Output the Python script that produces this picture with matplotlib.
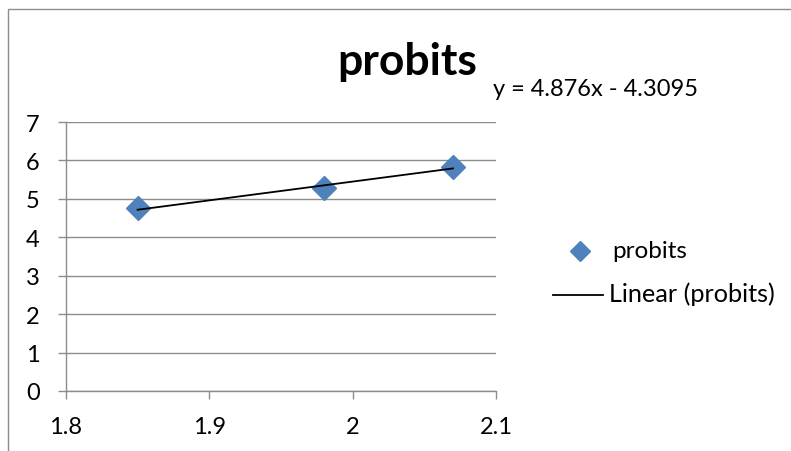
import matplotlib
matplotlib.use("Agg")
import matplotlib.pyplot as plt
import numpy as np
from matplotlib.lines import Line2D
from matplotlib.patches import Rectangle

x_vals = [1.85, 1.98, 2.07]
probits = [4.75, 5.27, 5.84]
x_ticks = [1.8, 1.9, 2.0, 2.1]
x_tick_labels = ["1.8", "1.9", "2", "2.1"]
y_ticks = [0, 1, 2, 3, 4, 5, 6, 7]
title = "probits"
equation = "y = 4.876x - 4.3095"
legend_labels = ["probits", "Linear (probits)"]

plt.rcParams['font.family'] = ['Lato', 'DejaVu Sans']

W, H = 791, 452
fig = plt.figure(figsize=(W / 100, H / 100), dpi=100)
fig.patch.set_facecolor("white")

# chart border
fig.add_artist(Rectangle((7.5 / W, -0.05), 1.2, (H - 10) / H + 0.05, transform=fig.transFigure,
                         fill=False, edgecolor="#8c8c8c", linewidth=1.0))

left, right, top, bottom = 66, 496, 123, 392
ax = fig.add_axes([left / W, 1 - bottom / H, (right - left) / W, (bottom - top) / H])
ax.set_xlim(1.8, 2.1)
ax.set_ylim(0, 7)
ax.set_xticks(x_ticks)
ax.set_xticklabels(x_tick_labels)
ax.set_yticks(y_ticks)

grid_c = "#8c8c8c"
for s in ["top", "right"]:
    ax.spines[s].set_visible(False)
for s in ["left", "bottom"]:
    ax.spines[s].set_color(grid_c)
    ax.spines[s].set_linewidth(1.0)
ax.yaxis.grid(True, color=grid_c, linewidth=1.0)
ax.set_axisbelow(True)
ax.tick_params(axis="both", colors=grid_c, labelcolor="black", labelsize=17,
               length=6, width=1.0, direction="out")
ax.tick_params(axis="x", pad=12)
ax.tick_params(axis="y", pad=13)

ax.plot(x_vals, probits, linestyle="none", marker="D", markersize=12,
        color="#4F81BD", markeredgecolor="#4F81BD", zorder=3, clip_on=False)

coef = np.polyfit(x_vals, probits, 1)
xs = np.array([min(x_vals), max(x_vals)])
ax.plot(xs, np.polyval(coef, xs), color="black", linewidth=1.3, zorder=4)

fig.text(407 / W, 1 - 75 / H, title, ha="center", va="baseline",
         fontsize=32, fontweight="bold")
fig.text(493 / W, 1 - 96 / H, equation, ha="left", va="baseline", fontsize=17)

# legend
fig.add_artist(Line2D([580 / W], [1 - 252 / H], marker="D", markersize=10,
                      color="#4F81BD", linestyle="none", transform=fig.transFigure))
fig.text(612 / W, 1 - 258 / H, legend_labels[0], ha="left", va="baseline", fontsize=17.5)
fig.add_artist(Line2D([553 / W, 603 / W], [1 - 296 / H, 1 - 296 / H], color="black",
                      linewidth=1.3, transform=fig.transFigure))
fig.text(609 / W, 1 - 302 / H, legend_labels[1], ha="left", va="baseline", fontsize=18.2)

fig.savefig("out.png", dpi=100)
